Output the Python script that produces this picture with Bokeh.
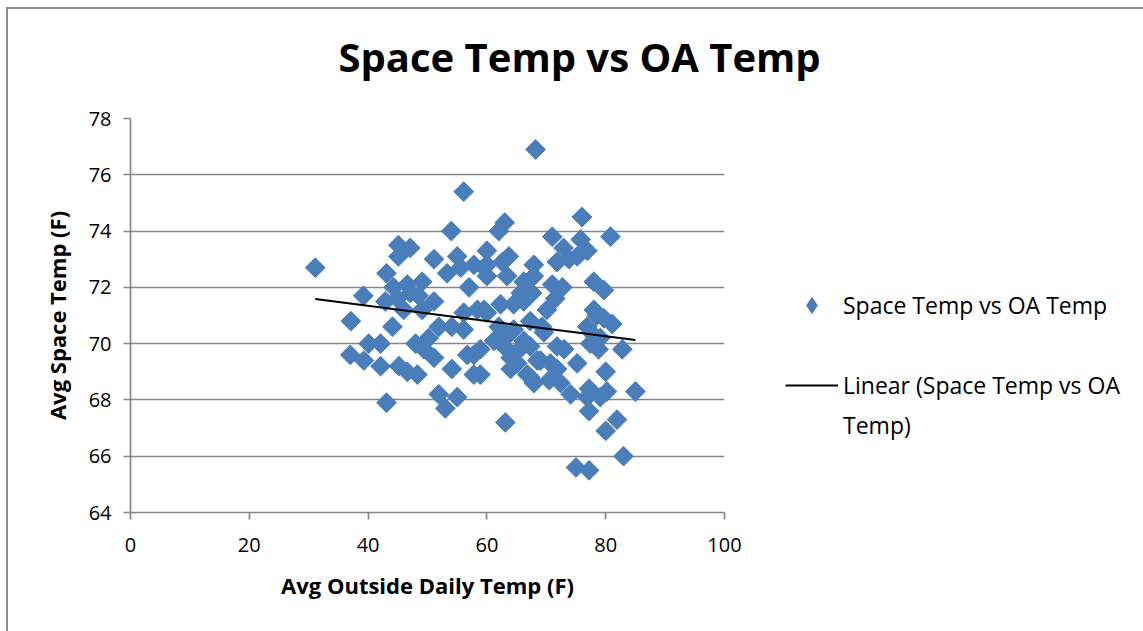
import numpy as np
from bokeh.plotting import figure
from bokeh.models import Legend, LegendItem, Range1d
from bokeh.embed import file_html
from bokeh.resources import INLINE

# ---- data ----
oa_temp = [31.1, 39.2, 37.1, 44.1, 40.1, 42.1, 37.0, 39.3, 42.1, 43.1,
           45.1, 47.1, 45.1, 43.1, 51.1, 54.0, 55.0, 53.3, 55.6, 57.8,
           44.3, 46.6, 49.1, 42.9, 44.9, 47.1, 48.5, 51.1, 46.0, 49.1,
           51.9, 54.1, 56.1, 57.0, 48.0, 50.2, 49.4, 45.2, 46.6, 48.3,
           51.1, 54.1, 51.9, 55.0, 53.0, 56.7, 57.8, 56.1, 56.1, 58.4,
           57.8, 63.0, 62.0, 71.0, 76.0, 80.8, 75.8, 72.9, 76.9, 75.2,
           71.8, 73.8, 63.7, 62.6, 60.0, 59.5, 60.0, 63.4, 67.9, 67.9,
           66.2, 71.0, 72.7, 78.0, 79.7, 65.7, 67.6, 62.3, 64.5, 66.2,
           70.1, 71.5, 78.0, 79.7, 81.1, 76.9, 59.5, 62.0, 63.1, 64.5,
           67.3, 69.3, 66.2, 67.3, 71.8, 77.4, 78.8, 82.8, 75.2, 80.0,
           62.9, 64.0, 65.1, 68.5, 70.7, 71.8, 64.0, 66.8, 67.9, 58.9,
           58.9, 63.1, 74.1, 77.2, 76.9, 79.1, 80.2, 77.2, 80.0, 81.9,
           85.0, 83.0, 75.0, 77.2, 72.4, 67.3, 78.5, 78.0, 79.1, 68.2,
           61.2, 69.6, 69.0, 60.0, 65.5, 70.5, 60.0, 73.0]
space_temp = [72.7, 71.7, 70.8, 70.6, 70.0, 70.0, 69.6, 69.4, 69.2, 67.9,
              73.5, 73.4, 73.1, 72.5, 73.0, 74.0, 73.1, 72.5, 72.7, 72.8,
              72.0, 72.1, 72.2, 71.5, 71.6, 71.8, 71.7, 71.5, 71.2, 71.2,
              70.6, 70.6, 70.5, 72.0, 70.0, 70.2, 69.8, 69.2, 69.0, 68.9,
              69.5, 69.1, 68.2, 68.1, 67.7, 69.6, 68.9, 75.4, 71.1, 71.2,
              69.6, 74.3, 74.0, 73.8, 74.5, 73.8, 73.7, 73.4, 73.3, 73.1,
              72.9, 73.0, 73.1, 72.9, 73.3, 72.7, 72.4, 72.4, 72.8, 72.4,
              72.2, 72.1, 72.0, 72.2, 71.9, 71.8, 71.8, 71.4, 71.4, 71.5,
              71.2, 71.6, 71.2, 70.9, 70.7, 70.6, 71.2, 70.6, 70.2, 70.5,
              70.8, 70.6, 70.1, 69.9, 69.9, 70.0, 69.8, 69.8, 69.3, 69.0,
              69.9, 69.5, 69.3, 69.4, 69.3, 69.1, 69.1, 68.9, 68.6, 69.8,
              68.9, 67.2, 68.2, 67.6, 68.1, 68.1, 68.3, 68.4, 66.9, 67.3,
              68.3, 66.0, 65.6, 65.5, 68.6, 68.8, 71.0, 70.3, 70.2, 76.9,
              70.1, 70.4, 69.4, 71.1, 69.8, 68.7, 72.8, 69.8]
x_ticks = [0, 20, 40, 60, 80, 100]
y_ticks = [64, 66, 68, 70, 72, 74, 76, 78]

title_text = "Space Temp vs OA Temp"
x_title = "Avg Outside Daily Temp (F)"
y_title = "Avg Space Temp (F)"
series_name = "Space Temp vs OA Temp"
trend_name_1 = "Linear (Space Temp vs OA"
trend_name_2 = "Temp)"

FONT = "Open Sans"
BLUE = "#4A7EBB"
GREY = "#868686"
EDGE = "#8a8a8a"

p = figure(frame_width=594, frame_height=394,
           min_border_left=124, min_border_right=417,
           min_border_top=127, min_border_bottom=119,
           x_range=Range1d(0, 100), y_range=Range1d(64, 78),
           output_backend="svg", toolbar_location=None)
# chart-area outline (top, left, right) painted behind a transparent canvas border
p.styles = {
    "margin-left": "6px", "margin-top": "-9px",
    "background": (f"linear-gradient({EDGE},{EDGE}) left 0 top 16px / 2px calc(100% - 16px) no-repeat, "
                   f"linear-gradient({EDGE},{EDGE}) right 0 top 16px / 2px calc(100% - 16px) no-repeat, "
                   f"linear-gradient({EDGE},{EDGE}) left 0 top 16px / 100% 2px no-repeat, white"),
}
p.outline_line_color = None
p.background_fill_color = "white"
p.border_fill_color = None

p.title.text = title_text
p.title.align = "left"
p.title.offset = 208
p.title.standoff = 70
p.title.text_font = FONT
p.title.text_font_size = "40px"
p.title.text_font_style = "bold"
p.title.text_color = "black"

p.xgrid.visible = False
p.ygrid.grid_line_color = GREY
p.ygrid.grid_line_width = 1.7

p.xaxis.ticker = x_ticks
p.yaxis.ticker = y_ticks
for ax in (p.xaxis[0], p.yaxis[0]):
    ax.axis_line_color = GREY
    ax.axis_line_width = 1.7
    ax.major_tick_line_color = GREY
    ax.major_tick_line_width = 1.7
    ax.major_tick_out = 7
    ax.major_tick_in = 0
    ax.minor_tick_line_color = None
    ax.major_label_text_font = FONT
    ax.major_label_text_font_size = "20px"
    ax.major_label_text_color = "black"
    ax.axis_label_text_font = FONT
    ax.axis_label_text_font_size = "22px"
    ax.axis_label_text_font_style = "bold"
    ax.axis_label_text_color = "black"

p.xaxis.axis_label = x_title
p.yaxis.axis_label = y_title
p.xaxis.major_label_standoff = 18
p.yaxis.major_label_standoff = 12
p.xaxis.axis_label_standoff = 15
p.yaxis.axis_label_standoff = 14

r = p.scatter(oa_temp, space_temp, marker="square", angle=np.pi / 4, size=14,
              fill_color=BLUE, line_color=BLUE)

slope, intercept = np.polyfit(oa_temp, space_temp, 1)
xs = [min(oa_temp), max(oa_temp)]
ys = [slope * x + intercept for x in xs]
tl = p.line(xs, ys, line_color="black", line_width=2)

# legend swatch for the scatter series (a diamond, as in the original); hidden in the plot
swatch = p.scatter(oa_temp, space_temp, marker="diamond", fill_color=BLUE,
                   line_color=BLUE, visible=False)

legend = Legend(items=[LegendItem(label=series_name, renderers=[swatch]),
                       LegendItem(label="", renderers=[]),
                       LegendItem(label=trend_name_1, renderers=[tl]),
                       LegendItem(label=trend_name_2, renderers=[])],
                location=(61, 67), orientation="vertical",
                glyph_width=53, glyph_height=40, label_height=40,
                label_standoff=5, padding=0, margin=0, spacing=0,
                border_line_color=None, background_fill_alpha=0,
                inactive_fill_alpha=0,
                label_text_font=FONT, label_text_font_size="23px",
                label_text_color="black")
p.add_layout(legend, "right")

open("out.html", "w").write(file_html(p, INLINE))
